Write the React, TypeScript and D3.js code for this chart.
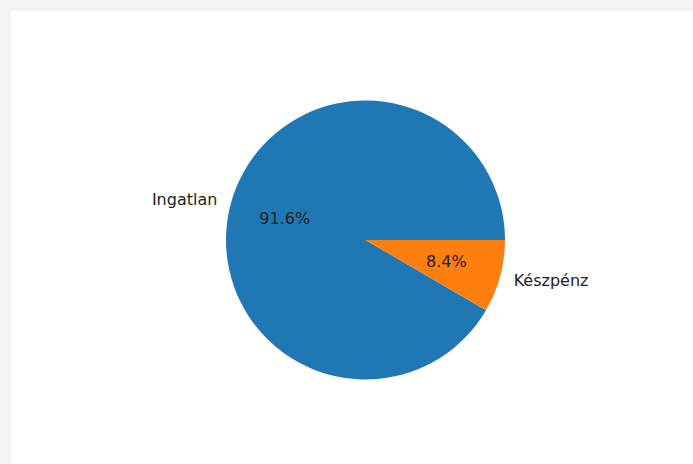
import React from 'react';
import * as d3 from 'd3';

const labels = ['Ingatlan', 'Készpénz'];
const shares = [91.6, 8.4];
const colors = ['#1f77b4', '#ff7f0e'];

const W = 693;
const H = 464;
const cx = 365.5;
const cy = 240;
const radius = 139.5;
const fontSize = 16;

export default function App() {
  const pie = d3
    .pie<number>()
    .sort(null)
    .startAngle(Math.PI / 2)
    .endAngle(Math.PI / 2 - 2 * Math.PI);
  const arcs = pie(shares);
  const arc = d3.arc<d3.PieArcDatum<number>>().innerRadius(0).outerRadius(radius);

  const at = (a: number, r: number) => [r * Math.sin(a), -r * Math.cos(a)];

  return (
    <svg
      width={W}
      height={H}
      style={{ position: 'fixed', left: 0, top: 0 }}
      fontFamily="DejaVu Sans, sans-serif"
    >
      <rect width={W} height={H} fill="#f3f3f3" />
      <rect x={11} y={11} width={W - 11} height={H - 11} fill="#ffffff" />
      <g transform={`translate(${cx},${cy})`}>
        {arcs.map((d, i) => (
          <path key={labels[i]} d={arc(d) || ''} fill={colors[i]} />
        ))}
        {arcs.map((d, i) => {
          const mid = (d.startAngle + d.endAngle) / 2;
          const [lx, ly] = at(mid, radius * 1.1);
          const [px, py] = at(mid, radius * 0.6);
          return (
            <g key={'t' + i}>
              <text
                x={lx}
                y={ly}
                textAnchor={lx < 0 ? 'end' : 'start'}
                dominantBaseline="central"
                fontSize={fontSize}
                fill="#222"
              >
                {labels[i]}
              </text>
              <text
                x={px}
                y={py}
                textAnchor="middle"
                dominantBaseline="central"
                fontSize={fontSize}
                fill="#222"
              >
                {shares[i].toFixed(1)}%
              </text>
            </g>
          );
        })}
      </g>
    </svg>
  );
}
